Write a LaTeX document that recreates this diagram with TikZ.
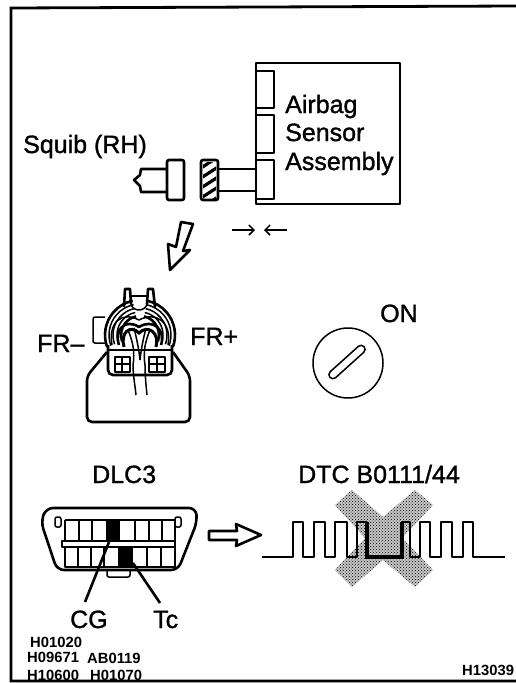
\documentclass[tikz,border=0pt]{standalone}
\usepackage{fontspec}
\setmainfont{Liberation Sans}[BoldFont=Liberation Sans, BoldFeatures={FakeBold=1.2}]
\newfontfamily\heavyfont{Liberation Sans Bold}
\usepackage{tikz}
\usetikzlibrary{patterns,arrows.meta}
\tikzset{
	part/.style={line width=2.6pt, line join=round},
	thin part/.style={line width=1.5pt, line join=round},
	big label/.style={font=\bfseries\fontsize{25}{25}\selectfont, inner sep=0pt, anchor=base west},
	small label/.style={font=\heavyfont\fontsize{14.8}{14.8}\selectfont, inner sep=0pt, anchor=base west},
}
\begin{document}
\begin{tikzpicture}[x=1pt,y=-1pt]
	\useasboundingbox (0,0) rectangle (516,683);
	\fill[white] (0,0) rectangle (516,683);
	% frame
	\draw[line width=2.8pt] (516,6) -- (11,8) -- (11,681) -- (516,681);
	% sensor and squib
	\draw[part] (256,63) rectangle (400,204);
	\draw[part] (257,71) -- (274,71) -- (274,108) -- (257,108);
	\draw[part] (257,115) -- (274,115) -- (274,153) -- (257,153);
	\draw[part] (257,160) -- (274,160) -- (274,199) -- (257,199);
	\node[big label] (airbag) at (285,113) {Airbag};
	\node[big label] (sensor) at (285,141) {Sensor};
	\node[big label] (assembly) at (285,170) {Assembly};
	\node[big label] (squib) at (23,153) {Squib (RH)};
	\draw[part] (218,169) -- (256,169);
	\draw[part] (218,191) -- (256,191);
	\draw[part, rounded corners=2pt] (201,160) rectangle (218,200);
	\begin{scope}
		\clip (203,162) rectangle (216,198);
		\foreach \y in {168,178,...,208}
			\draw[line width=3.2pt] (201,\y) -- (218,\y-11);
	\end{scope}
	\draw[part, rounded corners=2pt] (167,160) rectangle (184,200);
	\draw[part] (167,169) -- (141,169) -- (140,175) -- (134,180) -- (140,186) -- (141,192) -- (167,192);
	% arrows
	\draw[part] (181,222) -- (193,224) -- (183,251) -- (190,250) -- (170,270) -- (168,244) -- (176,247) -- cycle;
	\coordinate (gap left) at (232,230);
	\coordinate (gap right) at (287,230);
	\draw[-{Straight Barb[length=5pt,width=10pt]}, thin part] (gap left) -- ++(23,0);
	\draw[-{Straight Barb[length=5pt,width=10pt]}, thin part] (gap right) -- ++(-23,0);
	% FR connector
	\draw[part, rounded corners=5pt] (107,352) -- (87,376) -- (87,422) -- (190,422) -- (190,376) -- (173,352);
	\draw[part, rounded corners=5pt] (108,345) -- (108,375) -- (172,375) -- (172,345);
	\draw[thin part, rounded corners=2pt] (105,343) -- (93,343) -- (93,317) -- (105,317);
	\draw[part] (124,307) -- (125,289) -- (130,289) -- (131,304);
	\draw[part] (147,304) -- (148,289) -- (153,289) -- (155,307);
	\draw[thin part] (131,296) -- (147,296);
	\foreach \r/\w in {35/2.6,31/1.5,27/1.5,23/1.5,19/2.6}
	{
		\draw[line width=\w pt] ([shift={(140,335)}]160:\r) arc[start angle=160, end angle=258, radius=\r];
		\draw[line width=\w pt] ([shift={(140,335)}]20:\r) arc[start angle=20, end angle=-78, radius=\r];
	}
	\draw[thin part] (131,304) .. controls (133,312) and (145,312) .. (147,304);
	\draw[thin part] (112,345) .. controls (108,322) and (122,311) .. (139,320) .. controls (156,311) and (172,322) .. (168,345);
	\draw[part] (119,345) .. controls (114,330) and (125,318) .. (139,327) .. controls (153,318) and (166,330) .. (161,345);
	\draw[line width=3pt] (124,347) .. controls (120,333) and (130,324) .. (139,333) .. controls (148,324) and (160,333) .. (156,347);
	\draw[thin part] (108,350) -- (172,350);
	\draw[thin part] (128,330) .. controls (133,342) and (135,352) .. (133,365) .. controls (133,375) and (135,385) .. (136,395);
	\draw[thin part] (134,328) .. controls (137,340) and (139,350) .. (140,360);
	\draw[thin part] (150,330) .. controls (145,342) and (143,352) .. (145,365) .. controls (145,375) and (146,385) .. (147,395);
	\draw[thin part] (146,328) .. controls (143,340) and (141,350) .. (140,360);
	\draw[thin part] (115,357) rectangle (130,372);
	\draw[thin part] (149,357) rectangle (165,372);
	\draw[thin part] (122,357) -- (122,372) (115,364) -- (130,364) (157,357) -- (157,372) (149,364) -- (165,364);
	\node[big label] (fr minus) at (37,352) {FR–};
	\node[big label] (fr plus) at (190,345) {FR+};
	% ignition key
	\draw[thin part] (348,363) circle (35);
	\draw[thin part, rounded corners=4pt, rotate around={42:(347,362)}] (324,358) rectangle (370,366);
	\node[big label] (on) at (380,322) {ON};
	% DLC3
	\node[big label] (dlc) at (92,483) {DLC3};
	\draw[part, rounded corners=7pt] (46,508) -- (196,508) -- (197,522) -- (178,570) -- (57,570) -- (41,522) -- cycle;
	\draw[thin part, rounded corners=2pt] (107,570) -- (107,577) -- (130,577) -- (130,570);
	\draw[thin part, rounded corners=2pt] (55,517) rectangle (61,527);
	\draw[thin part, rounded corners=2pt] (175,517) rectangle (181,527);
	\draw[part] (62,541) rectangle (175,547);
	\draw[thin part] (65,520) -- (175,520) -- (175,541);
	\draw[thin part] (65,541) -- (65,520);
	\draw[thin part] (65,547) -- (65,567) -- (175,567) -- (175,547);
	\foreach \x in {79,92,135,149,162}
		\draw[thin part] (\x,520) -- (\x,541);
	\foreach \x in {78,91,104,147,161}
		\draw[thin part] (\x,547) -- (\x,567);
	\fill (106,520) rectangle (120,541);
	\fill (118,547) rectangle (133,567);
	\node[big label] (cg) at (70,628) {CG};
	\node[big label] (tc) at (153,628) {Tc};
	\coordinate (cg pin) at (109,542);
	\coordinate (tc pin) at (133,563);
	\coordinate (cg end) at (85,602);
	\coordinate (tc end) at (160,603);
	\draw[part] (cg pin) -- (cg end);
	\draw[part] (tc pin) -- (tc end);
	% small numbers
	\node[small label] (n1) at (30,647) {H01020};
	\node[small label] (n2) at (27,662) {H09671};
	\node[small label] (n3) at (87,663) {AB0119};
	\node[small label] (n4) at (27,680) {H10600};
	\node[small label] (n5) at (90,680) {H01070};
	\node[small label] (n6) at (462,675) {H13039};
	\draw[part] (209,531) -- (237,531) -- (236,524) -- (261,535) -- (236,546) -- (237,540) -- (209,540) -- cycle;
	% waveform
	\node[big label] (dtc) at (298,483) {DTC B0111/44};
	\fill[black!22] (352,490) -- (383,517) -- (415,490) -- (433,505) -- (402,538) -- (433,570) -- (415,587) -- (383,560) -- (352,587) -- (335,570) -- (365,538) -- (335,505) -- cycle;
	\fill[pattern=crosshatch dots, pattern color=black] (352,490) -- (383,517) -- (415,490) -- (433,505) -- (402,538) -- (433,570) -- (415,587) -- (383,560) -- (352,587) -- (335,570) -- (365,538) -- (335,505) -- cycle;
	\draw[part] (262,557) -- (293,557) -- (293,522) -- (303,522) -- (303,557) -- (314,557) -- (314,522) -- (325,522) -- (325,557) -- (335,557) -- (335,522) -- (347,522) -- (347,557) -- (357,557) -- (357,522) -- (367,522) -- (367,557) -- (402,557) -- (402,522) -- (410,522) -- (410,557) -- (420,557) -- (420,522) -- (430,522) -- (430,557) -- (441,557) -- (441,522) -- (452,522) -- (452,557) -- (463,557) -- (463,522) -- (473,522) -- (473,557) -- (505,557);
	\draw[line width=3.4pt] (367,522) -- (367,557) -- (402,557) -- (402,522);
\end{tikzpicture}
\end{document}
